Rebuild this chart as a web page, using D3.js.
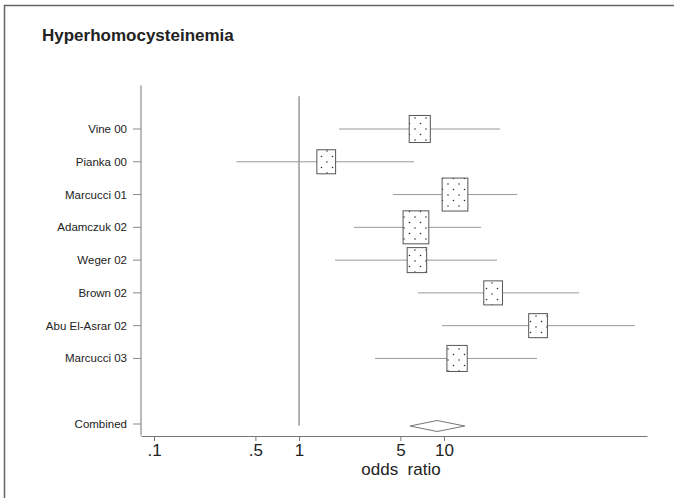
<!DOCTYPE html>
<html lang="en">
<head>
<meta charset="UTF-8">
<title>Hyperhomocysteinemia</title>
<script src="https://cdn.jsdelivr.net/npm/d3@7"></script>
<style>
  body { margin: 0; background: #fff; }
  text { font-family: "Liberation Sans", Arial, sans-serif; fill: #222; }
</style>
</head>
<body>
<script>
// studies, odds ratios and 95% CI
const studies = ["Vine 00", "Pianka 00", "Marcucci 01", "Adamczuk 02", "Weger 02",
                 "Brown 02", "Abu El-Asrar 02", "Marcucci 03"];
const oddsRatio = [6.8, 1.54, 11.9, 6.4, 6.5, 21.8, 44.5, 12.3];
const lower = [1.89, 0.37, 4.45, 2.39, 1.77, 6.62, 9.69, 3.34];
const upper = [24.3, 6.21, 31.9, 18.0, 23.2, 85.3, 207, 43.8];
const weights = [12.3, 9.7, 18.3, 18.3, 10.5, 9.7, 9.7, 11.4]; // percent
const combined = { label: "Combined", or: 8.95, lo: 5.83, hi: 13.9 };
const xTicks = [0.1, 0.5, 1, 5, 10];
const xTickLabels = [".1", ".5", "1", "5", "10"];

const W = 674, H = 498;
const svg = d3.select("body").append("svg")
  .attr("width", W).attr("height", H);

// dotted fill of the boxes
const pat = svg.append("defs").append("pattern")
  .attr("id", "dots").attr("patternUnits", "userSpaceOnUse")
  .attr("width", 11).attr("height", 11);
pat.append("rect").attr("width", 11).attr("height", 11).attr("fill", "#fff");
pat.selectAll("circle").data([[2.5, 2.5], [8, 8]]).enter().append("circle")
  .attr("cx", d => d[0]).attr("cy", d => d[1]).attr("r", 0.75).attr("fill", "#222");

// frame
svg.append("path").attr("d", "M4.5,505 V5.5 H680")
  .attr("fill", "none").attr("stroke", "#666").attr("stroke-width", 1.5);

svg.append("text").attr("x", 42).attr("y", 41)
  .attr("font-size", 17).attr("font-weight", "bold")
  .text("Hyperhomocysteinemia");

const x = d3.scaleLog().domain([0.0813, 251]).range([141, 647]);
const y = d3.scaleLinear().domain([1, 10]).range([129, 424]);
const rowOf = studies.map((d, i) => i + 1);
const size = d3.scaleSqrt().domain([0, 18.3]).range([0, 33]);

// y axis with study labels
const yAxis = svg.append("g");
yAxis.append("line").attr("x1", 141).attr("x2", 141)
  .attr("y1", y(-0.33)).attr("y2", y(10.35)).attr("stroke", "#777");
const labels = studies.map((s, i) => ({ s, r: rowOf[i] }))
  .concat([{ s: combined.label, r: 10 }]);
yAxis.selectAll("line.tick").data(labels).enter().append("line")
  .attr("class", "tick")
  .attr("x1", 133).attr("x2", 141)
  .attr("y1", d => y(d.r)).attr("y2", d => y(d.r))
  .attr("stroke", "#888");
yAxis.selectAll("text").data(labels).enter().append("text")
  .attr("x", 127).attr("y", d => y(d.r))
  .attr("dy", "0.35em").attr("text-anchor", "end")
  .attr("font-size", 11.5).text(d => d.s);

// x axis
const xAxis = svg.append("g").attr("transform", "translate(0,436)")
  .call(d3.axisBottom(x).tickValues(xTicks)
    .tickFormat((d, i) => xTickLabels[i]).tickSize(5).tickSizeOuter(0).tickPadding(3));
xAxis.select(".domain").attr("stroke", "#777");
xAxis.selectAll(".tick line").attr("stroke", "#777");
xAxis.selectAll(".tick text").attr("font-size", 17)
  .attr("font-family", "'Liberation Sans', Arial, sans-serif").attr("fill", "#222");

svg.append("text").attr("x", 401).attr("y", 475)
  .attr("text-anchor", "middle").attr("font-size", 17)
  .style("white-space", "pre").text("odds  ratio");

// null line at OR = 1
svg.append("line").attr("x1", x(1)).attr("x2", x(1))
  .attr("y1", y(0)).attr("y2", y(10.05)).attr("stroke", "#666");

// confidence intervals
svg.selectAll("line.ci").data(studies).enter().append("line")
  .attr("class", "ci")
  .attr("x1", (d, i) => x(lower[i])).attr("x2", (d, i) => x(upper[i]))
  .attr("y1", (d, i) => y(rowOf[i])).attr("y2", (d, i) => y(rowOf[i]))
  .attr("stroke", "#999");

// weighted boxes
svg.selectAll("rect.box").data(studies).enter().append("rect")
  .attr("class", "box")
  .attr("width", (d, i) => size(weights[i]) * 0.78)
  .attr("height", (d, i) => size(weights[i]))
  .attr("x", (d, i) => x(oddsRatio[i]) - size(weights[i]) * 0.39)
  .attr("y", (d, i) => y(rowOf[i]) - size(weights[i]) / 2)
  .attr("fill", "url(#dots)").attr("stroke", "#555");

// pooled estimate
const cy = y(10) + 2;
svg.append("path")
  .attr("d", `M${x(combined.lo)},${cy} L${x(combined.or)},${cy - 5.5} L${x(combined.hi)},${cy} L${x(combined.or)},${cy + 5.5} Z`)
  .attr("fill", "none").attr("stroke", "#777");
</script>
</body>
</html>
